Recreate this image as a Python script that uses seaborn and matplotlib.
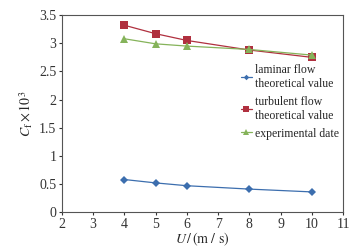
import numpy as np
import pandas as pd
import seaborn as sns
import matplotlib.pyplot as plt

# data
speed = [4, 5, 6, 8, 10]
laminar = [0.58, 0.52, 0.47, 0.41, 0.36]
turbulent = [3.32, 3.17, 3.05, 2.88, 2.75]
experimental = [3.08, 2.99, 2.95, 2.89, 2.79]
labels = ["laminar flow\ntheoretical value",
          "turbulent flow\ntheoretical value",
          "experimental date"]

df = pd.DataFrame({
    "U": speed * 3,
    "Cf": laminar + turbulent + experimental,
    "series": [labels[0]] * 5 + [labels[1]] * 5 + [labels[2]] * 5,
})

sns.set_style("ticks")
plt.rcParams["font.family"] = ["Liberation Serif", "DejaVu Serif"]
plt.rcParams["mathtext.fontset"] = "stix"

fig, ax = plt.subplots(figsize=(3.6, 2.52), dpi=100)
palette = {labels[0]: "#3c6eae", labels[1]: "#b0303f", labels[2]: "#85b35a"}
markers = {labels[0]: "D", labels[1]: "s", labels[2]: "^"}
sizes = {labels[0]: 4, labels[1]: 5.5, labels[2]: 5.5}

for lab in labels:
    sub = df[df["series"] == lab]
    sns.lineplot(data=sub, x="U", y="Cf", ax=ax, color=palette[lab],
                 marker=markers[lab], markersize=sizes[lab], linewidth=0.9,
                 markeredgewidth=0, label=lab)

ax.set_xlim(2, 11)
ax.set_ylim(0, 3.5)
ax.set_xticks(range(2, 12))
ax.set_yticks([0, 0.5, 1, 1.5, 2, 2.5, 3, 3.5])
ax.set_yticklabels(["0", "0.5", "1", "1.5", "2", "2.5", "3", "3.5"])
ax.tick_params(labelsize=10, length=2.5, width=0.8, colors="#333333", pad=1.5)
for s in ax.spines.values():
    s.set_color("#555555")
    s.set_linewidth(0.8)

ax.set_xlabel(r"$U\,/\,(\mathrm{m\ /\ s})$", fontsize=10, labelpad=0)
ax.set_ylabel(r"$C_\mathrm{f}\times10^3$", fontsize=10, labelpad=3)

leg = ax.legend(loc="upper left", bbox_to_anchor=(0.62, 0.775), frameon=False,
                fontsize=8.5, handlelength=0.9, handletextpad=0.3,
                labelspacing=0.5, borderaxespad=0, markerscale=0.7)

fig.subplots_adjust(left=0.172, right=0.953, top=0.94, bottom=0.158)
fig.savefig("out.png", dpi=100)
